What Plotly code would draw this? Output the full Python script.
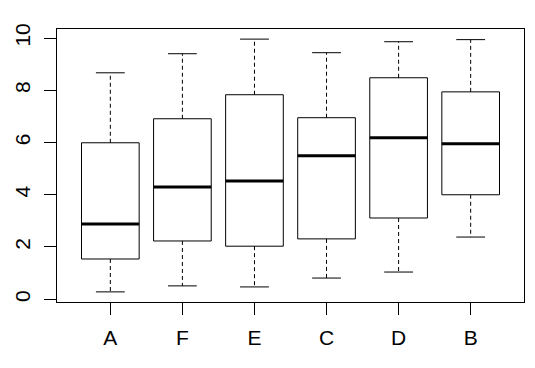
import plotly.graph_objects as go

categories = ["A", "F", "E", "C", "D", "B"]
lower_whisker = [0.28, 0.51, 0.47, 0.81, 1.04, 2.38]
q1 = [1.54, 2.23, 2.03, 2.31, 3.11, 4.00]
median = [2.88, 4.30, 4.53, 5.49, 6.18, 5.95]
q3 = [5.99, 6.91, 7.83, 6.95, 8.48, 7.94]
upper_whisker = [8.67, 9.40, 9.96, 9.44, 9.86, 9.94]
y_ticks = [0, 2, 4, 6, 8, 10]

positions = list(range(1, len(categories) + 1))
box_half = 0.4
cap_half = 0.2

fig = go.Figure()
for i, x in enumerate(positions):
    # dashed whiskers
    fig.add_trace(go.Scatter(
        x=[x, x, None, x, x],
        y=[q3[i], upper_whisker[i], None, q1[i], lower_whisker[i]],
        mode="lines", line=dict(color="black", width=1, dash="4px,3px"),
        hoverinfo="skip", showlegend=False))
    # caps
    fig.add_trace(go.Scatter(
        x=[x - cap_half, x + cap_half, None, x - cap_half, x + cap_half],
        y=[upper_whisker[i], upper_whisker[i], None, lower_whisker[i], lower_whisker[i]],
        mode="lines", line=dict(color="black", width=1),
        hoverinfo="skip", showlegend=False))
    # box
    fig.add_trace(go.Scatter(
        x=[x - box_half, x + box_half, x + box_half, x - box_half, x - box_half],
        y=[q1[i], q1[i], q3[i], q3[i], q1[i]],
        mode="lines", line=dict(color="black", width=1),
        hoverinfo="skip", showlegend=False))
    # median
    fig.add_trace(go.Scatter(
        x=[x - box_half, x + box_half],
        y=[median[i], median[i]],
        mode="lines", line=dict(color="black", width=3),
        hoverinfo="skip", showlegend=False))

data_min = min(lower_whisker)
data_max = max(upper_whisker)
pad = 0.04 * (data_max - data_min)
xpad = 0.04 * (len(categories))

tick_font = dict(family="Liberation Sans, Arial, sans-serif", size=21, color="black")

fig.update_layout(
    width=535, height=368,
    margin=dict(l=57, r=11, t=29, b=66, autoexpand=False),
    paper_bgcolor="white", plot_bgcolor="white",
    font=tick_font,
    xaxis=dict(
        range=[0.5 - xpad, len(categories) + 0.5 + xpad],
        tickvals=positions, ticktext=categories,
        showgrid=False, zeroline=False, automargin=False,
        showline=True, mirror=True, linecolor="black", linewidth=1,
        ticks="outside", ticklen=12, tickcolor="black", tickwidth=1,
        ticklabelstandoff=5, tickfont=tick_font,
    ),
    yaxis=dict(
        range=[data_min - pad, data_max + pad],
        tickvals=y_ticks, ticktext=[str(t) for t in y_ticks],
        tickangle=-90,
        showgrid=False, zeroline=False, automargin=False,
        showline=True, mirror=True, linecolor="black", linewidth=1,
        ticks="outside", ticklen=12, tickcolor="black", tickwidth=1,
        ticklabelstandoff=6, tickfont=tick_font,
    ),
)

fig.write_html("out.html", config={"displayModeBar": False},
               post_script="document.body.style.margin='0';")
